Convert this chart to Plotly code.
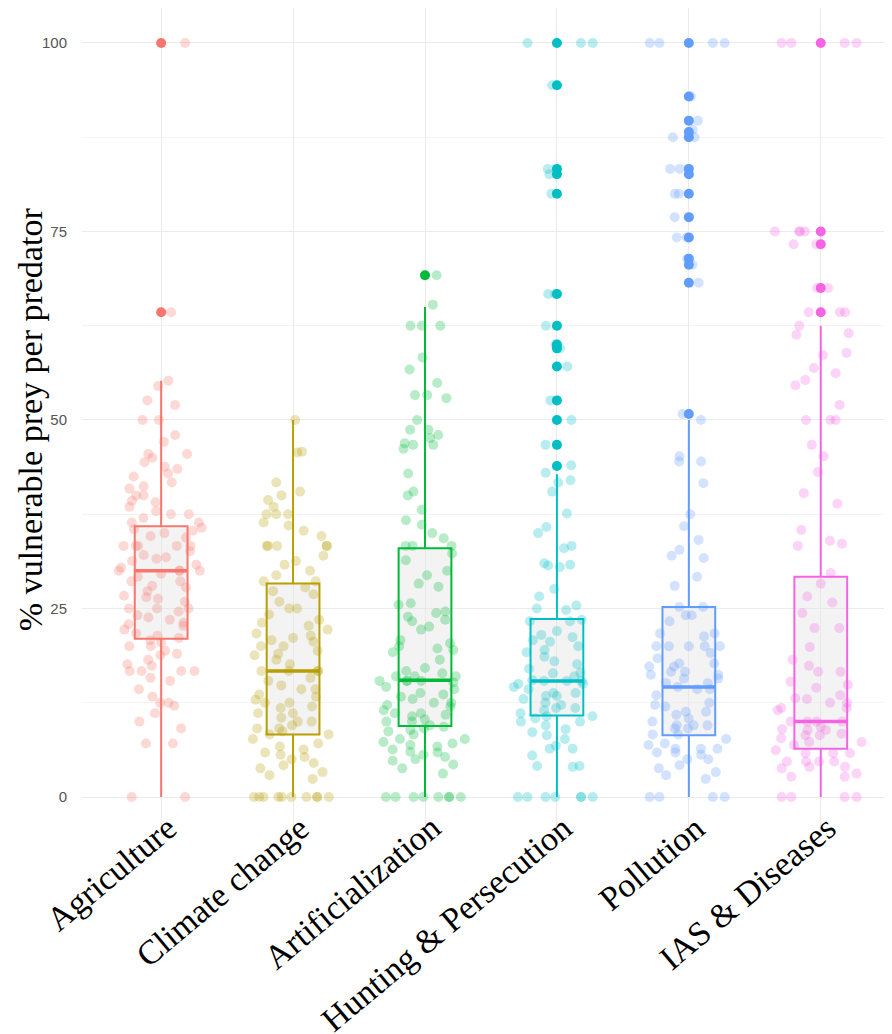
import plotly.graph_objects as go

categories = ["Agriculture", "Climate change", "Artificialization",
              "Hunting & Persecution", "Pollution", "IAS & Diseases"]
colors = ["#F8766D", "#B79F00", "#00BA38", "#00BFC4", "#619CFF", "#F564E3"]

# box statistics
q1 = [21.0, 8.3, 9.4, 10.8, 8.2, 6.4]
medians = [30.0, 16.7, 15.5, 15.4, 14.6, 10.0]
q3 = [35.9, 28.3, 33.0, 23.6, 25.2, 29.2]
lower_fence = [0, 0, 0, 0, 0, 0]
upper_fence = [55.2, 50.0, 65.0, 42.8, 50.0, 62.5]

# outliers (solid points)
agri_out = [100, 64.3]
clim_out = []
arti_out = [69.2]
hunt_out = [100, 94.4, 83.3, 82.6, 80, 66.7, 62.5, 60, 59.5, 57.1, 52.6, 50, 46.7, 43.9]
poll_out = [100, 92.9, 89.7, 88.2, 87.5, 83.3, 82.6, 80, 76.9, 74.2, 71.4, 70.6, 68.2, 50.8]
ias_out = [100, 75, 73.3, 67.5, 64.3]

# all observations (drawn jittered, translucent)
agri_pts = [100, 64.3, 55.2, 54.5, 52.6, 52.0, 50, 50, 48, 47.1, 45.5, 45.5, 45, 44.4, 43.8,
            43.5, 42.9, 42.5, 41.7, 41.2, 40.9, 40, 40, 39.3, 39.1, 38.5, 37.9, 37.5, 37.5, 37,
            36.4, 36.4, 35.7, 35.5, 35.3, 35, 34.6, 34.4, 33.3, 33.3, 33.3, 33.3, 33.3, 32.6,
            32.1, 31.8, 31.6, 31.3, 30.8, 30.4, 30, 30, 30, 30, 29.6, 29.2, 28.6, 28.6, 28.0,
            27.8, 27.3, 26.7, 26.5, 26.3, 25.9, 25, 25, 25, 24.6, 24.1, 23.8, 23.5, 23.1, 22.9,
            22.7, 22.2, 21.7, 21.4, 21.1, 20.8, 20.5, 20, 20, 19.4, 19.0, 18.8, 18.2, 17.6, 17.4,
            16.7, 16.7, 16.7, 16.7, 15.8, 15.4, 14.3, 13.3, 12.5, 12.5, 12.1, 11.1, 10, 9.1, 7.1,
            7.1, 0, 0]
clim_pts = [50, 45.8, 45.7, 41.7, 40.5, 40, 39.4, 38.5, 37.5, 37.5, 37.5, 36.4, 36, 35.3, 34.6,
            33.3, 33.3, 33.3, 33.3, 33.3, 32, 31.3, 30.8, 30, 29.4, 28.6, 28.6, 27.8, 27.3, 26.9,
            25.9, 25, 25, 24.2, 23.5, 23.1, 22.7, 22.2, 21.7, 21.4, 21.1, 20.8, 20.6, 20, 20, 19.4,
            19, 18.8, 18.2, 17.6, 16.7, 16.7, 16.7, 16.7, 15.8, 15.4, 14.8, 14.3, 14.3, 13.6, 13.3,
            12.9, 12.5, 12.5, 12, 11.8, 11.1, 11.1, 10.5, 10, 10, 9.5, 9.1, 9.1, 8.7, 8.3, 8.3,
            7.7, 7.1, 6.7, 6.3, 5.9, 5.6, 5.3, 5, 4.5, 4.2, 3.8, 3.3, 2.9, 2.4, 0, 0, 0, 0, 0, 0,
            0, 0, 0, 0]
arti_pts = [69.2, 65.3, 62.5, 62.5, 62.5, 58.3, 56.7, 54.9, 53.3, 53.3, 52.9, 50, 48.7, 48.7, 48,
            47.6, 46.9, 46.7, 46.7, 46.2, 42.9, 40.5, 40, 38.1, 36.7, 36.1, 35, 34.3, 33.3, 33.3,
            33.3, 32.3, 31.4, 30, 29.4, 28.3, 27.9, 25.7, 25.5, 24.6, 24.4, 23.9, 23.5, 23.3, 22.6,
            22.2, 20.8, 20.4, 20, 19.7, 19.5, 19.2, 18.2, 17.1, 16.7, 16.4, 16, 16, 16, 15.4, 15.4,
            15.4, 15.4, 15.2, 14.6, 14.3, 13.8, 13.6, 13.3, 13, 12.5, 12.5, 12.2, 12, 11.5, 11.1,
            11.1, 10.9, 10.7, 10.3, 10, 10, 9.5, 9.3, 9.1, 8.9, 8.7, 8.3, 7.7, 7.7, 7.3, 7.1, 6.9,
            6.7, 6.3, 6, 5.9, 5.6, 5.3, 5, 4.8, 4.3, 3.8, 3.1, 0, 0, 0, 0, 0, 0, 0, 0]
hunt_pts = [100, 100, 100, 94.4, 83.3, 82.6, 80, 66.7, 66.7, 62.5, 60, 59.5, 57.1, 52.6, 50,
            46.7, 44, 43, 42, 41.7, 40.5, 37.6, 35.8, 35, 33.3, 33, 31, 30.8, 30.7, 30.5, 27.6,
            26.6, 25.4, 25, 24.8, 23.5, 23.3, 23.3, 22, 21.5, 21.2, 20.8, 20.6, 20, 19.5, 19.2,
            18.6, 18, 17.6, 17, 16.5, 16.4, 16, 15.5, 15.4, 15.4, 15.4, 15, 15, 14.6, 14.3, 13.8,
            13.8, 13.4, 13.4, 13, 12.5, 12.2, 11.8, 11.8, 11.5, 11.1, 10.7, 10.7, 10.4, 10, 10,
            9.5, 9, 8.6, 8.2, 7.7, 6.8, 6.4, 6.4, 5.5, 4.1, 4.1, 4.0, 0, 0, 0, 0, 0, 0, 0]
poll_pts = [100, 100, 100, 100, 92.9, 89.7, 88.5, 87.5, 87.5, 83.3, 83.3, 80, 80, 76.9, 74.2,
            74.2, 71.4, 70.6, 68.2, 50.8, 50, 45.2, 44.5, 44.5, 41.6, 37.5, 35.9, 34.1, 32.8, 32,
            31.7, 29.2, 28, 25.2, 25.2, 24.1, 24.1, 23.3, 21.7, 21.7, 21.3, 20, 20, 20, 20, 20,
            19.1, 18.4, 17.7, 17.7, 17.3, 17.3, 16.6, 16.6, 16.2, 16.2, 15.7, 15.7, 15.1, 15.1,
            14.6, 14.3, 14.3, 13.5, 12.5, 12.2, 12, 11.3, 11.3, 10.9, 10.4, 10, 9.5, 9.5, 9.5,
            9.1, 9.1, 8.3, 8.3, 7.7, 7.1, 6.9, 6.4, 6.4, 6.4, 5.9, 5.9, 5.6, 5, 5, 4.2, 3.8, 3.3,
            2.9, 2.4, 0, 0, 0, 0]
ias_pts = [100, 100, 100, 100, 75, 75, 75, 75, 73.3, 73.3, 67.5, 67.5, 64.3, 64.3, 64.3, 62.5,
           61.5, 61.3, 58.9, 58.6, 56.9, 56.2, 55.3, 54.6, 52, 50, 50, 50, 46.7, 45.2, 43.1, 40.3,
           38.9, 35.4, 34, 33.6, 33.3, 29.7, 28.3, 26.6, 25.8, 24.4, 22.4, 22.4, 19.9, 18.2, 17.4,
           16.6, 16.6, 15.3, 14.9, 14.5, 13.5, 13.1, 13, 12.5, 12.5, 11.8, 11.8, 11.5, 10, 10, 10,
           10, 9.3, 8.9, 8.9, 9, 8.4, 8.2, 8.2, 7.8, 7.3, 7.3, 6.9, 6.2, 5.8, 5.8, 5.8, 4.7, 4.7,
           4.7, 4.7, 4.0, 4.0, 3.8, 3.1, 2.7, 2.7, 0, 0, 0, 0]

y_ticks = [0, 25, 50, 75, 100]
y_title = "% vulnerable prey per predator"

all_pts = [agri_pts, clim_pts, arti_pts, hunt_pts, poll_pts, ias_pts]
all_out = [agri_out, clim_out, arti_out, hunt_out, poll_out, ias_out]


def rgba(hex_color, a):
    h = hex_color.lstrip("#")
    r, g, b = int(h[0:2], 16), int(h[2:4], 16), int(h[4:6], 16)
    return f"rgba({r},{g},{b},{a})"


fig = go.Figure()

# boxes from the read statistics
for i, cat in enumerate(categories):
    c = colors[i]
    fig.add_trace(go.Box(
        x=[cat], q1=[q1[i]], median=[medians[i]], q3=[q3[i]],
        lowerfence=[lower_fence[i]], upperfence=[upper_fence[i]],
        fillcolor="rgba(228,228,228,0.45)", line=dict(color=c, width=2),
        whiskerwidth=0, width=0.4, boxpoints=False, showlegend=False,
        hoverinfo="skip"))
    # thicker median bar
    fig.add_trace(go.Box(
        x=[cat], q1=[medians[i]], median=[medians[i]], q3=[medians[i]],
        lowerfence=[medians[i]], upperfence=[medians[i]],
        fillcolor="rgba(0,0,0,0)", line=dict(color=c, width=3.5),
        whiskerwidth=0, width=0.4, boxpoints=False, showlegend=False,
        hoverinfo="skip"))

# jittered observations; values at the scale ends get their own trace so that
# plotly's density-scaled jitter spreads the rest evenly
for i, cat in enumerate(categories):
    c = colors[i]
    vals = all_pts[i]
    groups = [[v for v in vals if v <= 0],
              [v for v in vals if 0 < v < 100],
              [v for v in vals if v >= 100]]
    for g in groups:
        if not g:
            continue
        fig.add_trace(go.Box(
            x=[cat] * len(g), y=g, boxpoints="all", jitter=1, pointpos=0,
            width=0.7, fillcolor="rgba(0,0,0,0)",
            line=dict(color="rgba(0,0,0,0)", width=1),
            marker=dict(color=rgba(c, 0.28), size=10, line=dict(width=0)),
            showlegend=False, hoverinfo="skip"))

# outliers
for i, cat in enumerate(categories):
    c = colors[i]
    outs = all_out[i]
    if outs:
        fig.add_trace(go.Scatter(
            x=[cat] * len(outs), y=outs, mode="markers",
            marker=dict(color=c, size=10, line=dict(width=0)),
            showlegend=False, hoverinfo="skip"))

serif = "Liberation Serif, Times New Roman, serif"

# category labels (rotated, end anchored near the tick)
for cat in categories:
    fig.add_annotation(
        x=cat, xref="x", y=0.035, yref="paper", text=cat, showarrow=False,
        textangle=-40, xanchor="right", yanchor="top", xshift=25,
        font=dict(family=serif, size=34, color="black"))

# y axis title
fig.add_annotation(
    x=-0.064, xref="paper", y=0.503, yref="paper", text=y_title, showarrow=False,
    textangle=-90, xanchor="center", yanchor="middle",
    font=dict(family=serif, size=34, color="black"))

fig.update_layout(
    width=884, height=1026,
    margin=dict(l=74, r=0, t=0, b=199),
    paper_bgcolor="white", plot_bgcolor="white",
    boxmode="overlay",
    showlegend=False,
    xaxis=dict(
        type="category", categoryorder="array", categoryarray=categories,
        range=[-0.6, 5.54], showgrid=True, gridcolor="#ebebeb", gridwidth=1.2,
        zeroline=False, showline=False, ticks="", showticklabels=False,
        automargin=False,
    ),
    yaxis=dict(
        range=[-5.04, 104.64], tickvals=y_ticks,
        showgrid=True, gridcolor="#ebebeb", gridwidth=1.2,
        minor=dict(tickvals=[12.5, 37.5, 62.5, 87.5], showgrid=True,
                   gridcolor="#f4f4f4", gridwidth=0.8),
        zeroline=False, showline=False, ticks="", ticklen=0, automargin=False,
        ticklabelstandoff=14,
        tickfont=dict(family="Liberation Sans, Arial, sans-serif", size=15, color="#555555"),
    ),
)

fig.write_html("out.html")
